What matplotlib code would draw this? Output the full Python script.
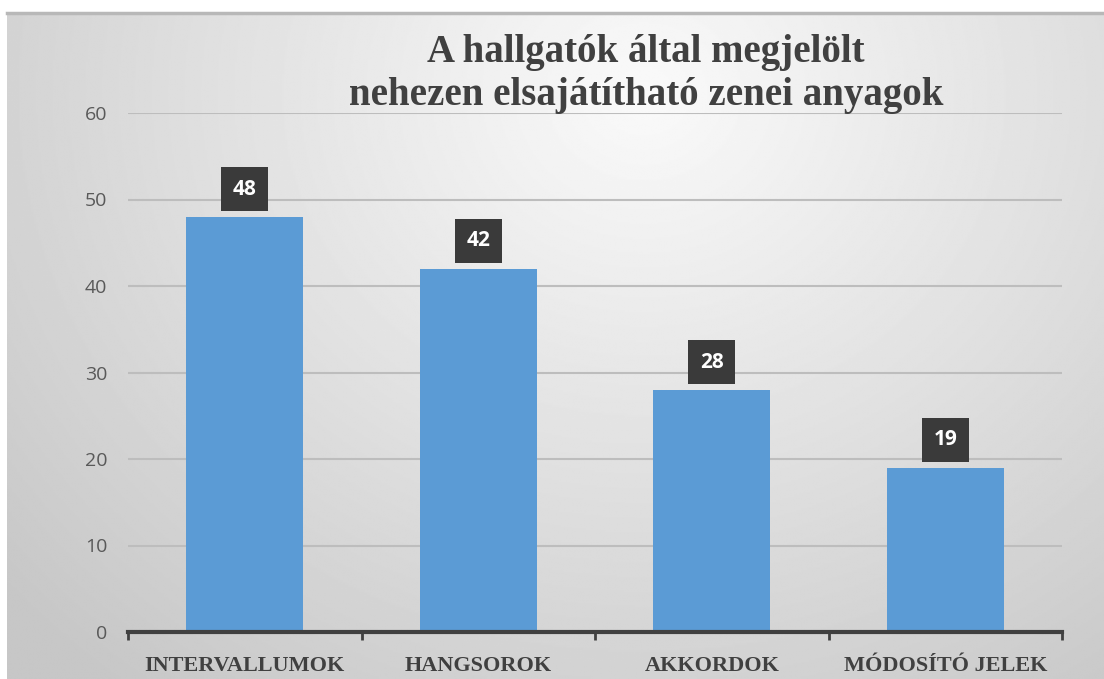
import numpy as np
import matplotlib
matplotlib.use("Agg")
import matplotlib.pyplot as plt
from matplotlib.ticker import FixedLocator

categories = ["INTERVALLUMOK", "HANGSOROK", "AKKORDOK", "MÓDOSÍTÓ JELEK"]
values = [48, 42, 28, 19]
title = "A hallgatók által megjelölt\nnehezen elsajátítható zenei anyagok"

W, H = 1104, 679
fig = plt.figure(figsize=(W / 100, H / 100), dpi=100)
fig.patch.set_facecolor("white")

# background panel with radial gradient
bg = fig.add_axes([7 / W, 0, 1 - 7 / W, 1 - 13 / H])
yy, xx = np.mgrid[0:400, 0:700]
cx, cy = 0.58 * 700, 0.12 * 400
r = np.sqrt(((xx - cx) / 620) ** 2 + ((yy - cy) / 520) ** 2)
shade = np.clip(0.98 - 0.23 * r, 0.78, 1.0)
bg.imshow(shade, cmap="gray", vmin=0, vmax=1, aspect="auto",
          extent=[0, 1, 0, 1], origin="upper", interpolation="bilinear")
bg.set_axis_off()
# top shadow line
fig.add_artist(plt.Line2D([7 / W, 1], [1 - 12.5 / H, 1 - 12.5 / H],
                          color="#b8b8b8", lw=2.5))

ax = fig.add_axes([128 / W, 1 - 632 / H, (1062 - 128) / W, (632 - 113) / H])
ax.set_facecolor("none")
x = np.arange(len(categories))
ax.bar(x, values, width=0.5, color="#5b9bd5", zorder=3)
ax.set_xlim(-0.5, len(categories) - 0.5)
ax.set_ylim(0, 60)
ax.set_yticks(range(0, 61, 10))
ax.grid(axis="y", color="#bdbdbd", lw=1.5, zorder=0)
ax.tick_params(axis="y", length=0, pad=15, labelsize=14, labelcolor="#595959")
for lab in ax.get_yticklabels():
    lab.set_family("Open Sans")

ax.xaxis.set_major_locator(FixedLocator(np.arange(-0.5, len(categories), 1.0)))
ax.xaxis.set_major_formatter(plt.NullFormatter())
ax.xaxis.set_minor_locator(FixedLocator(x))
ax.set_xticklabels(categories, minor=True)
ax.tick_params(axis="x", which="major", length=6, width=2, color="#404040", direction="out")
ax.tick_params(axis="x", which="minor", length=0, pad=17)
for lab in ax.get_xticklabels(minor=True):
    lab.set_family("Liberation Serif")
    lab.set_fontweight("bold")
    lab.set_fontsize(16)
    lab.set_color("#404040")

for s in ["top", "right", "left"]:
    ax.spines[s].set_visible(False)
ax.spines["bottom"].set_color("#404040")
ax.spines["bottom"].set_linewidth(3)
ax.spines["bottom"].set_zorder(4)

for xi, v in zip(x, values):
    ax.annotate(str(v), (xi, v), xytext=(0, 20), textcoords="offset points",
                ha="center", va="center", color="white", fontsize=15,
                fontweight="bold", family="Open Sans", zorder=5,
                bbox=dict(boxstyle="square,pad=0.55", fc="#3a3a3a", ec="none"))

fig.text(646 / W, 1 - 74 / H, title, ha="center", va="center",
         family="Liberation Serif", fontweight="bold", fontsize=28,
         color="#404040", linespacing=1.2)

fig.savefig("out.png", dpi=100)
